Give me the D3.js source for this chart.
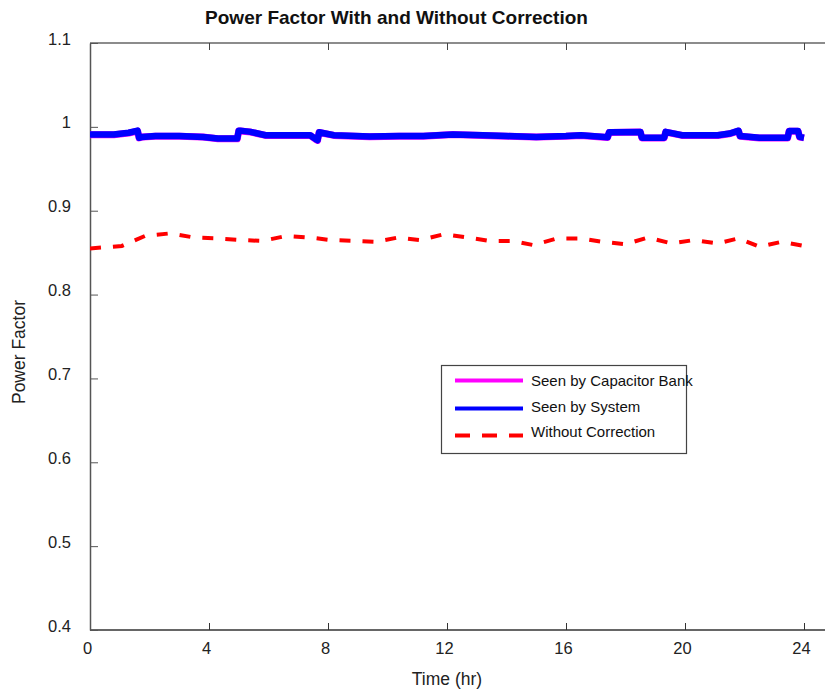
<!DOCTYPE html>
<html><head><meta charset="utf-8">
<script src="https://cdn.jsdelivr.net/npm/d3@7"></script>
<style>body{margin:0;background:#fff;} svg{display:block;font-family:"Liberation Sans",Arial,Helvetica,sans-serif;}</style>
</head><body>
<svg id="c" width="825" height="692"></svg>
<script>
// Data (time in hours, power factor)
const systemT   = [0, 0.8, 1.3, 1.6, 1.65, 1.75, 2.2, 3.0, 3.8, 4.3, 4.95, 5.0, 5.05, 5.4, 5.9, 6.8, 7.4, 7.6, 7.65, 7.7, 8.2, 9.4, 10.4, 11.2, 12.2, 13.2, 14.0, 15.0, 16.0, 16.5, 17.4, 17.45, 17.5, 18.5, 18.55, 19.3, 19.35, 19.9, 20.5, 21.1, 21.5, 21.8, 21.85, 22.5, 23.45, 23.5, 23.8, 23.85, 24.0];
const systemPF  = [0.991, 0.991, 0.993, 0.9955, 0.987, 0.988, 0.989, 0.989, 0.988, 0.986, 0.986, 0.9955, 0.9955, 0.994, 0.990, 0.990, 0.990, 0.985, 0.984, 0.9935, 0.990, 0.9885, 0.989, 0.989, 0.991, 0.990, 0.989, 0.988, 0.989, 0.990, 0.9876, 0.9935, 0.9935, 0.994, 0.987, 0.987, 0.994, 0.990, 0.990, 0.990, 0.992, 0.9954, 0.989, 0.987, 0.987, 0.995, 0.995, 0.988, 0.987];
const capBankT  = systemT;
const capBankPF = [0.9905, 0.9905, 0.9925, 0.995, 0.9868, 0.9878, 0.9888, 0.9888, 0.9878, 0.9858, 0.9858, 0.995, 0.995, 0.9938, 0.9898, 0.9898, 0.9898, 0.9848, 0.9838, 0.9932, 0.9898, 0.9883, 0.9888, 0.9888, 0.9908, 0.9898, 0.9888, 0.9878, 0.9888, 0.9898, 0.9874, 0.9932, 0.9932, 0.9938, 0.9868, 0.9868, 0.9938, 0.9898, 0.9898, 0.9898, 0.9918, 0.995, 0.9888, 0.9868, 0.9868, 0.9948, 0.9948, 0.9878, 0.9868];
const noCorrT   = [0, 1.07, 1.85, 2.7, 3.5, 4.3, 5.1, 5.8, 6.6, 7.4, 8.1, 8.9, 9.6, 10.35, 11.1, 11.9, 12.7, 13.4, 14.2, 14.9, 15.7, 16.5, 17.2, 18.0, 18.75, 19.55, 20.3, 21.1, 21.8, 22.5, 23.25, 24.0];
const noCorrPF  = [0.855, 0.858, 0.870, 0.873, 0.868, 0.867, 0.865, 0.864, 0.870, 0.868, 0.865, 0.864, 0.863, 0.868, 0.865, 0.872, 0.868, 0.864, 0.864, 0.859, 0.867, 0.867, 0.863, 0.860, 0.868, 0.861, 0.865, 0.861, 0.867, 0.857, 0.863, 0.858];
const xTicks = [0, 4, 8, 12, 16, 20, 24];
const yTicks = [0.4, 0.5, 0.6, 0.7, 0.8, 0.9, 1, 1.1];
const legendLabels = ["Seen by Capacitor Bank", "Seen by System", "Without Correction"];
const title = "Power Factor With and Without Correction";

const svg = d3.select("#c");
const x = d3.scaleLinear().domain([0, 25]).range([90, 833.75]);
const y = d3.scaleLinear().domain([0.4, 1.1]).range([630, 43]);

// frame top line (right side lies outside the picture)
svg.append("line").attr("x1", 90).attr("x2", 825).attr("y1", 43).attr("y2", 43).attr("stroke", "#666").attr("stroke-width", 1.5);

// axes
const xAxis = d3.axisBottom(x).tickValues(xTicks).tickSizeInner(-7).tickSizeOuter(0).tickPadding(14).tickFormat(d3.format("d"));
const gx = svg.append("g").attr("transform", "translate(0,630)").call(xAxis);
gx.select(".domain").attr("d", "M90,0H825").attr("stroke", "#333").attr("stroke-width", 1.5);
gx.selectAll(".tick line").attr("stroke", "#333");
gx.selectAll(".tick text").attr("font-size", 16.5).attr("fill", "#222").attr("font-family", "Liberation Sans, Arial, sans-serif")
  .attr("dx", -3).attr("y", 24).attr("dy", 0);

const xTop = d3.axisTop(x).tickValues(xTicks).tickSizeInner(-7).tickSizeOuter(0).tickFormat("");
const gxt = svg.append("g").attr("transform", "translate(0,43)").call(xTop);
gxt.select(".domain").remove();
gxt.selectAll(".tick line").attr("stroke", "#444");

const yAxis = d3.axisLeft(y).tickValues(yTicks).tickSizeInner(-8).tickSizeOuter(0).tickPadding(19).tickFormat(d => d3.format("")(+d.toFixed(1)));
const gy = svg.append("g").attr("transform", "translate(90,0)").call(yAxis);
gy.select(".domain").attr("stroke", "#555").attr("stroke-width", 1.5);
gy.selectAll(".tick line").attr("stroke", "#555");
gy.selectAll(".tick text").attr("font-size", 16.5).attr("fill", "#222").attr("font-family", "Liberation Sans, Arial, sans-serif")
  .attr("dy", 1);

// lines
svg.append("clipPath").attr("id", "clp").append("rect").attr("x", 90).attr("y", 43).attr("width", 745).attr("height", 587);
const line = d3.line().x(d => x(d[0])).y(d => y(d[1]));
const plot = svg.append("g").attr("clip-path", "url(#clp)");
plot.append("path").datum(d3.zip(capBankT, capBankPF)).attr("d", line).attr("fill", "none").attr("stroke", "#ff00ff").attr("stroke-width", 7).attr("stroke-linejoin", "round");
plot.append("path").datum(d3.zip(systemT, systemPF)).attr("d", line).attr("fill", "none").attr("stroke", "#0000ff").attr("stroke-width", 6.5).attr("stroke-linejoin", "round");
plot.append("path").datum(d3.zip(noCorrT, noCorrPF)).attr("d", line).attr("fill", "none").attr("stroke", "#ff0000").attr("stroke-width", 4).attr("stroke-dasharray", "11,12");

// title & labels
svg.append("text").attr("x", 396.5).attr("y", 24).attr("text-anchor", "middle").attr("font-size", 19).attr("font-weight", "bold").attr("fill", "#111").text(title);
svg.append("text").attr("x", 447).attr("y", 685).attr("text-anchor", "middle").attr("font-size", 17.5).attr("fill", "#222").text("Time (hr)");
svg.append("text").attr("transform", "translate(25,352) rotate(-90)").attr("text-anchor", "middle").attr("font-size", 17.5).attr("fill", "#222").text("Power Factor");

// legend
const lg = svg.append("g");
lg.append("rect").attr("x", 441.5).attr("y", 365.5).attr("width", 245).attr("height", 88).attr("fill", "#fff").attr("stroke", "#444").attr("stroke-width", 1.2);
const legColors = ["#ff00ff", "#0000ff", "#ff0000"];
const legY = [380.5, 408.5, 435.5];
const legTextY = [386, 412, 437];
legendLabels.forEach((lab, i) => {
  const l = lg.append("line").attr("x1", 455).attr("x2", 523).attr("y1", legY[i]).attr("y2", legY[i]).attr("stroke", legColors[i]).attr("stroke-width", 4);
  if (i === 2) l.attr("stroke-dasharray", "15,12");
  lg.append("text").attr("x", 531).attr("y", legTextY[i]).attr("font-size", 15).attr("fill", "#111").text(lab);
});
</script>
</body></html>
